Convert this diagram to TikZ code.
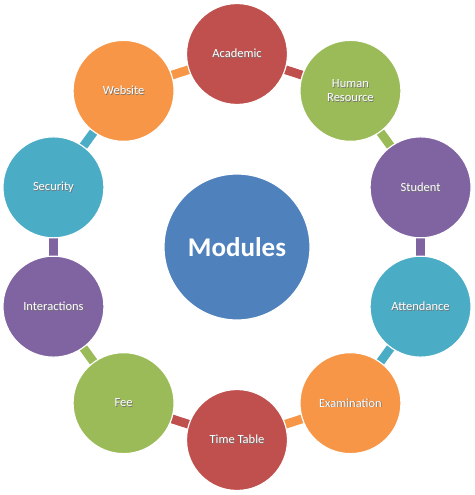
\documentclass[tikz,border=0pt]{standalone}
\usepackage{fontspec}
\setmainfont{Carlito}
\usetikzlibrary{backgrounds,calc}
\definecolor{cred}{HTML}{C0504D}
\definecolor{cgreen}{HTML}{9BBB59}
\definecolor{cpurple}{HTML}{8064A2}
\definecolor{cteal}{HTML}{4BACC6}
\definecolor{corange}{HTML}{F79646}
\definecolor{cblue}{HTML}{4F81BD}
\newcommand\shtxt[1]{\makebox[0pt][l]{\raisebox{-0.7pt}{\hspace{0.7pt}\color{black!55}#1}}#1}
\tikzset{
  mod/.style={circle, draw=white, line width=1.2pt, minimum size=101pt, inner sep=0pt,
    text=white, font=\fontsize{12.5}{14}\selectfont, align=center},
  hub/.style={circle, draw=white, line width=1.2pt, fill=cblue, minimum size=146pt, inner sep=0pt,
    text=white, font=\fontsize{27}{30}\selectfont\bfseries},
  link/.style={draw=white, line width=0.7pt, double=#1, double distance=8.8pt,
    shorten <=-4pt, shorten >=-4pt}
}
\begin{document}
\begin{tikzpicture}[x=1pt,y=-1pt]
\useasboundingbox (0,0) rectangle (474,495);
\coordinate (c) at (237,247);
\node[hub] (hub) at (c) {Modules};
\node[mod, fill=cred]    (m1)  at ($(c)+(90:193pt)$)   {\shtxt{Academic}};
\node[mod, fill=cgreen]  (m2)  at ($(c)+(54:193pt)$)   {\shtxt{Human}\\\shtxt{Resource}};
\node[mod, fill=cpurple] (m3)  at ($(c)+(18:193pt)$)   {\shtxt{Student}};
\node[mod, fill=cteal]   (m4)  at ($(c)+(-18:193pt)$)  {\shtxt{Attendance}};
\node[mod, fill=corange] (m5)  at ($(c)+(-54:193pt)$)  {\shtxt{Examination}};
\node[mod, fill=cred]    (m6)  at ($(c)+(-90:193pt)$)  {\shtxt{Time Table}};
\node[mod, fill=cgreen]  (m7)  at ($(c)+(-126:193pt)$) {\shtxt{Fee}};
\node[mod, fill=cpurple] (m8)  at ($(c)+(-162:193pt)$) {\shtxt{Interactions}};
\node[mod, fill=cteal]   (m9)  at ($(c)+(162:193pt)$)  {\shtxt{Security}};
\node[mod, fill=corange] (m10) at ($(c)+(126:193pt)$)  {\shtxt{Website}};
\begin{pgfonlayer}{background}
\draw[link=cred]    (m1) -- (m2);
\draw[link=cgreen]  (m2) -- (m3);
\draw[link=cpurple] (m3) -- (m4);
\draw[link=cteal]   (m4) -- (m5);
\draw[link=corange] (m5) -- (m6);
\draw[link=cred]    (m6) -- (m7);
\draw[link=cgreen]  (m7) -- (m8);
\draw[link=cpurple] (m8) -- (m9);
\draw[link=cteal]   (m9) -- (m10);
\draw[link=corange] (m10) -- (m1);
\end{pgfonlayer}
\end{tikzpicture}
\end{document}
